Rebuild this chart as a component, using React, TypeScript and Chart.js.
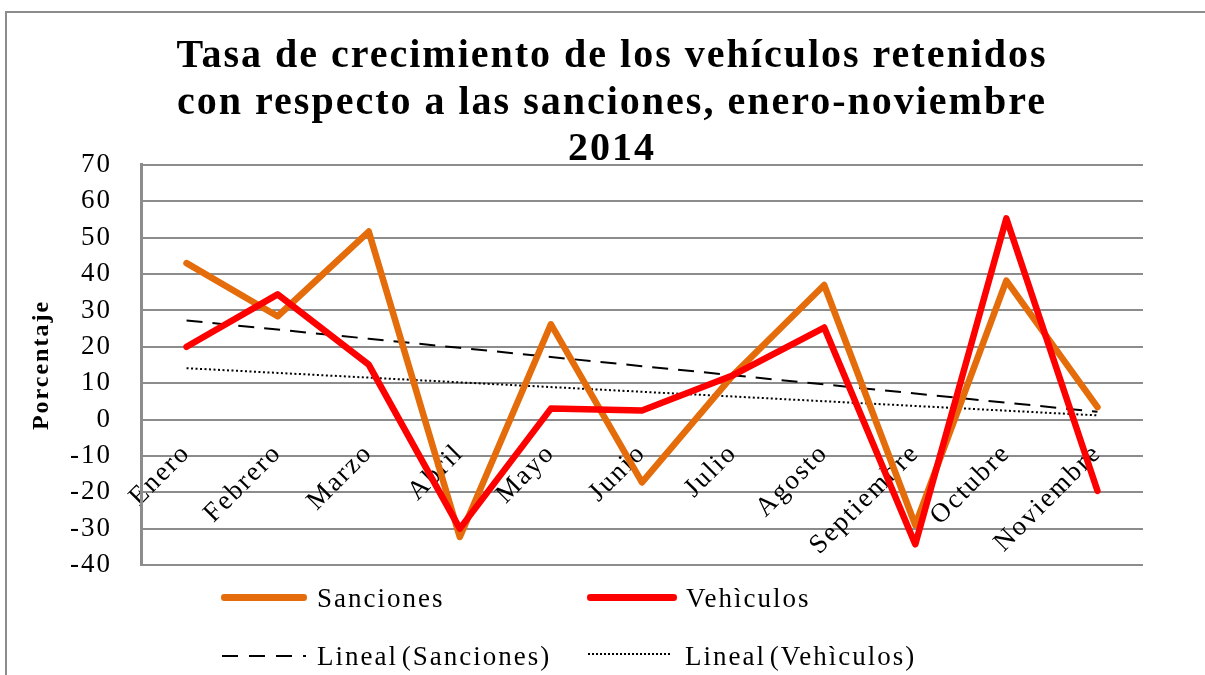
import React, { useEffect, useRef } from 'react';
import { Chart, registerables } from 'chart.js';

Chart.register(...registerables);

const SERIF = "'Liberation Serif', 'Times New Roman', serif";

const months = ['Enero', 'Febrero', 'Marzo', 'Abril', 'Mayo', 'Junio', 'Julio', 'Agosto', 'Septiembre', 'Octubre', 'Noviembre'];
const sanciones = [43, 28.4, 51.7, -32.3, 26.2, -17.3, 12.2, 37, -29, 38.2, 3.4];
const vehiculos = [20, 34.4, 15.1, -30, 3, 2.5, 12.2, 25.3, -34.3, 55.3, -19.6];
const yMin = -40;
const yMax = 70;
const yStep = 10;
const titleLines = [
  'Tasa de crecimiento de los vehículos retenidos',
  'con respecto a las sanciones, enero-noviembre',
  '2014',
];
const yTitle = 'Porcentaje';
const seriesNames = ['Sanciones', 'Vehìculos'];
const trendNames = ['Lineal (Sanciones)', 'Lineal (Vehìculos)'];

const ORANGE = '#E46C0A';
const RED = '#FF0000';
const GRID = '#8c8c8c';

// Excel "Lineal" trendline: least-squares fit of the series
function linearTrend(values: number[]): number[] {
  const n = values.length;
  const xs = values.map((_, i) => i + 1);
  const mx = xs.reduce((a, b) => a + b, 0) / n;
  const my = values.reduce((a, b) => a + b, 0) / n;
  let sxy = 0;
  let sxx = 0;
  for (let i = 0; i < n; i++) {
    sxy += (xs[i] - mx) * (values[i] - my);
    sxx += (xs[i] - mx) * (xs[i] - mx);
  }
  const slope = sxy / sxx;
  const b = my - slope * mx;
  return xs.map((x) => b + slope * x);
}

const spacingPlugin = {
  id: 'excelLetterSpacing',
  beforeUpdate(chart: any) {
    chart.ctx.letterSpacing = '2px';
  },
  beforeLayout(chart: any) {
    chart.ctx.letterSpacing = '2px';
  },
  beforeDraw(chart: any) {
    chart.ctx.letterSpacing = '2px';
  },
};

const textStyle: React.CSSProperties = {
  position: 'absolute',
  fontFamily: SERIF,
  fontSize: 27,
  lineHeight: '27px',
  letterSpacing: '2px',
  wordSpacing: '-5px',
  whiteSpace: 'nowrap',
  color: '#000',
};

export default function App() {
  const ref = useRef<HTMLCanvasElement>(null);

  useEffect(() => {
    const trendS = linearTrend(sanciones);
    const trendV = linearTrend(vehiculos);
    const chart = new Chart(ref.current as HTMLCanvasElement, {
      type: 'line',
      data: {
        labels: months,
        datasets: [
          {
            label: seriesNames[1],
            data: vehiculos,
            borderColor: RED,
            backgroundColor: RED,
            borderWidth: 6.5,
            pointRadius: 0,
            borderCapStyle: 'round',
            borderJoinStyle: 'round',
            tension: 0,
            fill: false,
            order: 0,
            yAxisID: 'y',
          },
          {
            label: seriesNames[0],
            data: sanciones,
            borderColor: ORANGE,
            backgroundColor: ORANGE,
            borderWidth: 6.5,
            pointRadius: 0,
            borderCapStyle: 'round',
            borderJoinStyle: 'round',
            tension: 0,
            fill: false,
            order: 1,
            yAxisID: 'y',
          },
          {
            label: trendNames[0],
            data: trendS,
            borderColor: '#000',
            borderWidth: 2,
            borderDash: [16, 10],
            pointRadius: 0,
            fill: false,
            order: 2,
            yAxisID: 'y',
          },
          {
            label: trendNames[1],
            data: trendV,
            borderColor: '#000',
            borderWidth: 2,
            borderDash: [2, 2.5],
            pointRadius: 0,
            fill: false,
            order: 3,
            yAxisID: 'y',
          },
        ],
      },
      options: {
        responsive: true,
        maintainAspectRatio: false,
        animation: false,
        layout: { padding: { left: 19, right: 0, top: 0, bottom: 110 } },
        plugins: {
          legend: { display: false },
          tooltip: { enabled: false },
          title: {
            display: true,
            text: titleLines,
            color: '#000',
            font: { family: SERIF, size: 40, weight: 'bold', lineHeight: 1.158 },
            padding: { top: 34, bottom: -8 },
          },
        },
        scales: {
          x: {
            type: 'category',
            position: { y: 0 },
            offset: true,
            grid: { display: false, drawTicks: false },
            border: { display: false },
            ticks: {
              autoSkip: false,
              minRotation: 45,
              maxRotation: 45,
              padding: 18,
              color: '#000',
              font: { family: SERIF, size: 27 },
            },
            afterFit: (s: any) => {
              s.height = 0;
            },
          },
          y: {
            type: 'linear',
            position: 'left',
            min: yMin,
            max: yMax,
            ticks: {
              stepSize: yStep,
              autoSkip: false,
              padding: 29,
              color: '#000',
              font: { family: SERIF, size: 27 },
            },
            grid: { color: GRID, lineWidth: 2, drawTicks: false },
            border: { display: true, color: GRID, width: 3 },
            title: {
              display: true,
              text: yTitle,
              color: '#000',
              font: { family: SERIF, size: 24, weight: 'bold' },
              padding: { top: 8, bottom: 0 },
            },
            afterFit: (s: any) => {
              s.width = 122;
            },
          },
          yR: {
            type: 'linear',
            position: 'right',
            display: true,
            grid: { display: false },
            border: { display: false },
            ticks: { display: false },
            afterFit: (s: any) => {
              s.width = 62;
            },
          },
        },
      } as any,
      plugins: [spacingPlugin],
    });
    return () => chart.destroy();
  }, []);

  return (
    <div style={{ position: 'absolute', left: 0, top: 0, width: 1205, height: 675, overflow: 'hidden', background: '#fff' }}>
      <div
        style={{
          position: 'absolute',
          left: 5,
          top: 11,
          width: 1300,
          height: 800,
          border: `2px solid ${GRID}`,
          boxSizing: 'border-box',
        }}
      />
      <div style={{ position: 'absolute', left: 0, top: 0, width: 1205, height: 675 }}>
        <canvas ref={ref} />
      </div>
      {/* legend */}
      <div style={{ position: 'absolute', left: 221, top: 594, width: 86, height: 6.5, borderRadius: 3.25, background: ORANGE }} />
      <div style={{ ...textStyle, left: 317, top: 585 }}>{seriesNames[0]}</div>
      <div style={{ position: 'absolute', left: 587, top: 594, width: 90, height: 6.5, borderRadius: 3.25, background: RED }} />
      <div style={{ ...textStyle, left: 686, top: 585 }}>{seriesNames[1]}</div>
      <div
        style={{
          position: 'absolute',
          left: 222,
          top: 655,
          width: 84,
          height: 2,
          background: 'repeating-linear-gradient(to right, #000 0px, #000 16px, transparent 16px, transparent 27px)',
        }}
      />
      <div style={{ ...textStyle, left: 317, top: 643 }}>{trendNames[0]}</div>
      <div
        style={{
          position: 'absolute',
          left: 588,
          top: 653,
          width: 82,
          height: 2,
          background: 'repeating-linear-gradient(to right, #000 0px, #000 2px, transparent 2px, transparent 4px)',
        }}
      />
      <div style={{ ...textStyle, left: 685, top: 643 }}>{trendNames[1]}</div>
    </div>
  );
}
